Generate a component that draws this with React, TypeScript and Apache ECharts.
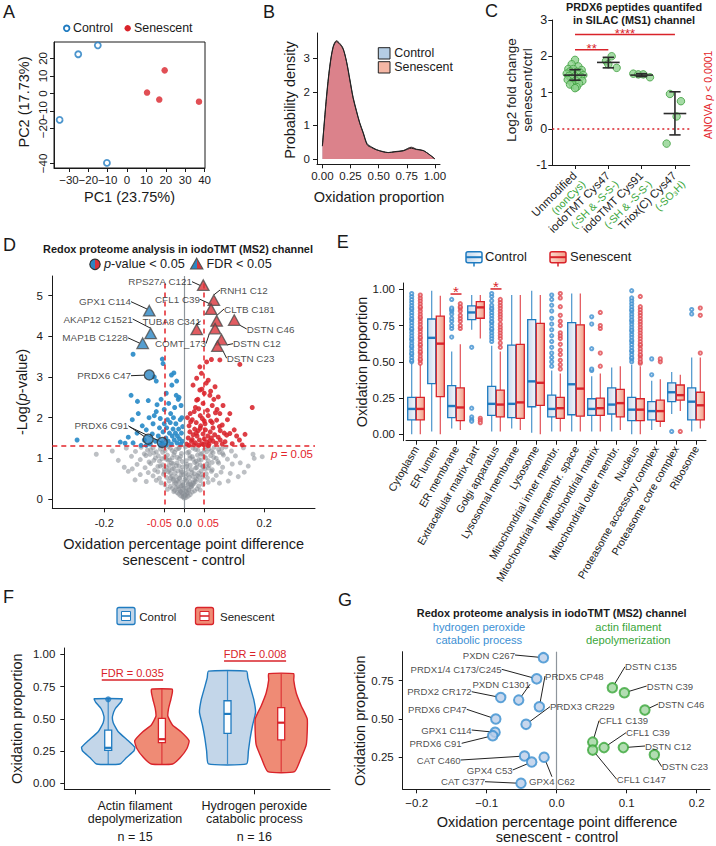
import React, { useEffect, useRef } from 'react';
import * as echarts from 'echarts';

const FONT = '"Liberation Sans", Arial, Helvetica, sans-serif';
const INK = '#1a1a1a';
const BLUE = '#1f7bc0';
const RED = '#d9232a';
const GREEN = '#3aa63a';
const AXIS_GREY = '#8e959c';

// ---------------- A: PCA ----------------
const pcaControl = [[-34.8, -15.1], [-25.2, 22.4], [-15.1, 27.5], [-10.4, -39.7]];
const pcaSenescent = [[10.3, 0.5], [19.4, 13.2], [16.6, -3.5], [37.1, -4.7]];
const pcaXTicks = [-30, -20, -10, 0, 10, 20, 30, 40];
const pcaXLabels = ['\u221230', '\u221220', '\u221210', '0', '10', '20', '30', '40'];
const pcaYTicks = [-40, -30, -20, -10, 0, 10, 20];
const pcaYLabels = ['\u221240', '\u221230', '\u221220', '\u221210', '0', '10', '20'];

// ---------------- B: density ----------------
const densX = [0, 0.036, 0.065, 0.095, 0.125, 0.154, 0.184, 0.214, 0.243, 0.273, 0.303, 0.332, 0.362, 0.398, 0.436, 0.48, 0.54, 0.585, 0.644, 0.718, 0.79, 0.837, 0.896, 0.955, 1.0];
const densControl = [0.38, 1.8, 2.72, 3.32, 3.5, 3.43, 3.28, 2.92, 2.4, 1.84, 1.44, 1.08, 0.8, 0.45, 0.36, 0.28, 0.21, 0.19, 0.21, 0.24, 0.32, 0.28, 0.25, 0.12, 0.0];
const densSenescent = [0.4, 1.86, 2.76, 3.35, 3.53, 3.45, 3.3, 2.9, 2.36, 1.81, 1.41, 1.06, 0.77, 0.42, 0.34, 0.27, 0.22, 0.19, 0.22, 0.25, 0.35, 0.29, 0.25, 0.12, 0.0];
const densXTicks = [0, 0.25, 0.5, 0.75, 1];
const densXLabels = ['0.00', '0.25', '0.50', '0.75', '1.00'];
const densYTicks = [0, 1, 2, 3];
const densYLabels = ['0', '1', '2', '3'];

// ---------------- C: PRDX6 SILAC ----------------
const cCategories = ['Unmodified', 'iodoTMT Cys47', 'iodoTMT Cys91', 'Triox(C) Cys47'];
const cSubLabels = ['(nonCys)', '(-SH & -S-S-)', '(-SH & -S-S-)', '(-SO\u2083H)'];
const cPoints = [
  [1.0, 1.9], [0.9, 1.78], [1.1, 1.72], [0.8, 1.65], [0.95, 1.65], [1.2, 1.62], [0.85, 1.58], [1.05, 1.57],
  [1.15, 1.55], [0.75, 1.52], [0.92, 1.5], [1.08, 1.5], [1.25, 1.48], [0.82, 1.46], [1.0, 1.45], [1.18, 1.43],
  [0.88, 1.4], [1.1, 1.38], [0.78, 1.35], [1.02, 1.33], [1.22, 1.32], [0.9, 1.28], [1.12, 1.25], [0.95, 1.2],
  [1.05, 1.15], [0.85, 1.22], [1.0, 1.12],
  [1.93, 1.87], [2.1, 2.0], [2.25, 1.68], [2.0, 1.78],
  [2.75, 1.52], [2.9, 1.5], [3.05, 1.5], [3.25, 1.42],
  [3.85, 0.96], [4.18, 0.76], [4.05, 0.34], [3.75, -0.41],
];
const cStats = [[1, 1.48, 1.34, 1.63], [2, 1.83, 1.68, 1.97], [3, 1.48, 1.44, 1.52], [4, 0.42, -0.17, 1.02]];
const cSig = [[1, 2, 2.18], [1, 4, 2.6]];
const cSigText = ['**', '****'];
const cYTicks = [-1, 0, 1, 2, 3];
const cYLabels = ['-1', '0', '1', '2', '3'];

// ---------------- D: volcano ----------------
const dGrey = [
  [0.0, 0.02], [-0.004, 0.05], [0.005, 0.04], [-0.009, 0.08], [0.01, 0.07], [0.002, 0.1], [-0.014, 0.12], [0.015, 0.11], [-0.003, 0.13], [0.008, 0.14],
  [-0.018, 0.16], [0.02, 0.17], [-0.008, 0.18], [0.004, 0.19], [-0.024, 0.21], [0.026, 0.2], [0.012, 0.23], [-0.013, 0.24], [-0.03, 0.26], [0.032, 0.25], [0.0, 0.27], [-0.02, 0.28], [0.018, 0.29], [0.04, 0.22], [-0.042, 0.24],
  [-0.035, 0.31], [0.036, 0.32], [-0.006, 0.33], [0.009, 0.34], [-0.048, 0.35], [0.047, 0.36], [-0.025, 0.37], [0.024, 0.38], [-0.058, 0.4], [0.06, 0.41], [-0.015, 0.42], [0.014, 0.43], [-0.038, 0.44], [0.04, 0.45], [-0.07, 0.46], [0.072, 0.47], [0.002, 0.48], [-0.028, 0.49], [0.03, 0.49], [-0.095, 0.43], [0.088, 0.39], [-0.123, 0.47], [0.11, 0.44],
  [-0.062, 0.51], [0.058, 0.52], [-0.044, 0.53], [0.046, 0.54], [-0.02, 0.55], [0.021, 0.56], [-0.078, 0.57], [0.08, 0.58], [-0.008, 0.59], [0.01, 0.6], [-0.052, 0.61], [0.055, 0.62], [-0.034, 0.63], [0.036, 0.64], [-0.09, 0.65], [0.092, 0.66], [-0.066, 0.67], [0.068, 0.68], [-0.016, 0.69], [0.135, 0.55], [-0.11, 0.6], [0.115, 0.63], [-0.14, 0.68], [0.15, 0.66],
  [-0.074, 0.71], [0.07, 0.72], [-0.05, 0.73], [0.052, 0.74], [-0.026, 0.75], [0.028, 0.76], [-0.098, 0.77], [0.096, 0.78], [-0.004, 0.79], [0.006, 0.8], [-0.06, 0.81], [0.062, 0.82], [-0.038, 0.83], [0.04, 0.84], [-0.118, 0.85], [0.12, 0.86], [-0.084, 0.87], [0.086, 0.88], [-0.018, 0.89], [0.018, 0.72], [-0.15, 0.78], [0.16, 0.81], [-0.13, 0.74], [0.14, 0.89],
  [-0.088, 0.91], [0.084, 0.92], [-0.062, 0.93], [0.06, 0.94], [-0.04, 0.95], [0.042, 0.96], [-0.11, 0.97], [0.108, 0.98], [-0.012, 0.99], [0.014, 1.0], [-0.072, 1.01], [0.074, 1.02], [-0.048, 1.03], [0.05, 1.04], [-0.132, 1.05], [0.128, 1.06], [-0.096, 1.07], [0.098, 1.08], [-0.026, 1.09], [0.03, 0.93], [-0.165, 0.95], [0.175, 1.0], [-0.22, 1.1], [0.195, 1.04],
  [-0.1, 1.11], [0.096, 1.12], [-0.076, 1.13], [0.072, 1.14], [-0.054, 1.15], [0.056, 1.16], [-0.122, 1.17], [0.118, 1.18], [-0.03, 1.19], [0.034, 1.2], [-0.084, 1.21], [0.086, 1.22], [-0.06, 1.23], [0.062, 1.24], [-0.145, 1.25], [0.148, 1.26], [-0.108, 1.27], [0.104, 1.28], [-0.04, 1.29], [0.044, 1.12], [-0.18, 1.18], [0.172, 1.1], [-0.014, 1.24], [0.012, 1.16],
  [-0.003, 0.35], [0.004, 0.52], [-0.006, 0.66], [0.007, 0.85], [-0.009, 1.05], [0.003, 1.28], [-0.02, 0.82], [0.022, 0.98], [-0.024, 1.15], [0.025, 0.62], [-0.032, 0.88], [0.033, 1.08], [-0.012, 0.5], [0.016, 0.36], [-0.045, 0.98], [0.046, 0.8], [-0.035, 1.25], [0.028, 1.22],
  [-0.002, 0.06], [0.003, 0.09], [-0.006, 0.15], [0.007, 0.16], [-0.01, 0.2], [0.011, 0.22], [-0.004, 0.24], [0.005, 0.26], [-0.016, 0.3], [0.017, 0.31], [-0.009, 0.32], [0.01, 0.37], [-0.021, 0.39], [0.022, 0.4], [-0.005, 0.41], [0.006, 0.44],
  [-0.027, 0.46], [0.026, 0.47], [-0.011, 0.52], [0.013, 0.54], [-0.031, 0.56], [0.033, 0.58], [-0.003, 0.6], [0.004, 0.63], [-0.023, 0.64], [0.019, 0.66], [-0.04, 0.67], [0.042, 0.69], [-0.008, 0.7], [0.009, 0.73], [-0.03, 0.74], [0.031, 0.77],
  [-0.045, 0.78], [0.048, 0.79], [-0.013, 0.81], [0.015, 0.83], [-0.054, 0.84], [0.057, 0.86], [-0.028, 0.87], [0.026, 0.9], [-0.005, 0.92], [0.005, 0.94], [-0.036, 0.96], [0.037, 0.97], [-0.056, 0.99], [0.054, 1.01], [-0.018, 1.02], [0.02, 1.04],
  [-0.065, 1.06], [0.066, 1.07], [-0.042, 1.08], [0.041, 1.1], [-0.007, 1.12], [0.008, 1.14], [-0.07, 1.16], [0.068, 1.18], [-0.048, 1.19], [0.05, 1.21], [-0.02, 1.22], [0.022, 1.25], [-0.078, 1.26], [0.075, 1.27], [-0.052, 1.28], [0.054, 1.29],
  [-0.012, 1.27], [0.014, 1.06], [-0.03, 1.01], [0.032, 0.86], [-0.038, 0.71], [0.035, 0.55], [-0.018, 0.45], [0.02, 0.34], [-0.026, 0.18], [0.028, 0.43], [-0.034, 0.52], [0.044, 0.6], [-0.05, 0.66], [0.06, 0.76], [-0.066, 0.8], [0.07, 0.9],
  [-0.076, 0.95], [0.08, 1.0], [-0.086, 1.1], [0.088, 1.15], [-0.092, 1.2], [0.094, 1.24],
];
const dBlue = [
  [-0.268, 1.45], [-0.16, 1.4], [-0.148, 1.37], [-0.14, 1.52], [-0.128, 1.38], [-0.118, 1.62], [-0.13, 1.95], [-0.115, 2.1], [-0.133, 2.55], [-0.117, 2.4], [-0.128, 3.56],
  [-0.1, 1.45], [-0.095, 1.7], [-0.09, 2.42], [-0.085, 1.35], [-0.08, 1.6], [-0.078, 1.85], [-0.075, 2.05], [-0.072, 1.42], [-0.07, 2.9], [-0.068, 2.32], [-0.065, 1.55], [-0.062, 1.75], [-0.06, 1.98], [-0.058, 2.45],
  [-0.055, 3.44], [-0.053, 3.33], [-0.055, 1.38], [-0.053, 1.65], [-0.05, 1.85], [-0.05, 2.2], [-0.046, 1.5], [-0.045, 2.6], [-0.044, 1.75], [-0.042, 1.95], [-0.04, 1.42], [-0.039, 2.35], [-0.037, 1.62], [-0.035, 1.88],
  [-0.034, 2.1], [-0.032, 1.35], [-0.032, 3.05], [-0.031, 2.8], [-0.03, 1.55], [-0.028, 1.72], [-0.027, 2.0], [-0.025, 1.45], [-0.024, 2.25], [-0.022, 1.62], [-0.021, 1.85], [-0.02, 2.55], [-0.018, 1.38], [-0.017, 1.55],
  [-0.015, 2.45], [-0.014, 1.72], [-0.012, 1.48], [-0.01, 1.95], [-0.009, 1.35], [-0.007, 1.62], [-0.006, 2.0], [-0.005, 1.42], [-0.004, 1.78], [-0.108, 1.32], [-0.095, 1.32], [-0.06, 1.32], [-0.045, 1.33],
  [-0.075, 3.0], [-0.026, 3.1], [-0.019, 2.9], [-0.013, 2.5], [-0.008, 2.3], [-0.088, 2.0], [-0.105, 1.8], [-0.07, 2.15],
];
const dRed = [
  [0.039, 3.25], [0.056, 3.37], [0.068, 3.43], [0.089, 3.42], [0.139, 3.31], [0.043, 3.09], [0.031, 2.97], [0.06, 2.92], [0.039, 2.68], [0.077, 2.76], [0.085, 2.51], [0.031, 2.43], [0.05, 2.6], [0.064, 2.55], [0.022, 2.8], [0.047, 2.35],
  [0.17, 2.25], [0.114, 2.1], [0.089, 2.1], [0.081, 1.94], [0.07, 2.3], [0.058, 2.18], [0.04, 2.05], [0.025, 2.15], [0.015, 2.1], [0.008, 2.0], [0.012, 1.8], [0.02, 1.95], [0.03, 1.88], [0.036, 2.22], [0.045, 1.98],
  [0.052, 1.85], [0.06, 2.05], [0.066, 1.92], [0.072, 1.75], [0.078, 2.12], [0.095, 1.82], [0.1, 1.62], [0.106, 1.57], [0.114, 1.61], [0.131, 1.55], [0.152, 1.59], [0.102, 1.41], [0.12, 1.36],
  [0.006, 1.35], [0.01, 1.5], [0.014, 1.65], [0.018, 1.42], [0.022, 1.58], [0.026, 1.72], [0.028, 1.38], [0.032, 1.55], [0.035, 1.68], [0.038, 1.45], [0.041, 1.8], [0.044, 1.36], [0.047, 1.6], [0.05, 1.48],
  [0.053, 1.7], [0.056, 1.4], [0.059, 1.55], [0.062, 1.35], [0.065, 1.65], [0.068, 1.5], [0.072, 1.42], [0.076, 1.58], [0.08, 1.37], [0.085, 1.52], [0.09, 1.45], [0.095, 1.35],
  [0.012, 1.32], [0.024, 1.33], [0.036, 1.32], [0.048, 1.34], [0.06, 1.31], [0.016, 1.9], [0.028, 2.25], [0.034, 2.45], [0.044, 2.7], [0.055, 2.85], [0.066, 2.65], [0.074, 2.45], [0.082, 2.2], [0.09, 1.68],
  [0.097, 2.3], [0.108, 1.95], [0.125, 1.7], [0.138, 1.45], [0.145, 1.33], [0.02, 1.46], [0.03, 1.62], [0.04, 1.74], [0.05, 1.92], [0.064, 1.44], [0.07, 1.88], [0.088, 1.78],
];
const dFdrNames = ['RPS27A C121', 'RNH1 C12', 'CFL1 C39', 'CLTB C181', 'DSTN C46', 'TUBA8 C341', 'COMT_173', 'DSTN C12', 'DSTN C23', 'GPX1 C114', 'AKAP12 C1521', 'MAP1B C1228'];
const dFdrPts = [[0.0475, 5.26], [0.074, 4.89], [0.067, 4.67], [0.081, 4.38], [0.125, 4.4], [0.031, 4.17], [0.077, 4.19], [0.093, 3.92], [0.083, 3.76], [-0.0875, 4.63], [-0.084, 4.07], [-0.104, 3.83]];
const dPvalNames = ['PRDX6 C47', 'PRDX6 C91', 'PRDX6 C91'];
const dPvalPts = [[-0.0875, 3.05], [-0.09, 1.47], [-0.055, 1.39]];
const dXTicks = [-0.2, -0.05, 0, 0.05, 0.2];
const dXLabels = ['-0.2', '{rl|-0.05}', '0.0', '{rr|0.05}', '0.2'];
const dYTicks = [0, 1, 2, 3, 4, 5];
const dYLabels = ['0', '1', '2', '3', '4', '5'];
const dFdrLabelPos = [[192, 281.7, 'right'], [220, 290, 'left'], [200, 299.3, 'right'], [224, 309, 'left'], [246.7, 329, 'left'], [200.7, 321, 'right'], [206, 343.7, 'right'], [233, 343.7, 'left'], [226.7, 358.3, 'left'], [131, 301.7, 'right'], [132.7, 319, 'right'], [127.7, 337.7, 'right']];
const dPvalLabelPos = [[131, 375.7, 'right'], [128.3, 425.7, 'right'], [128.3, 425.7, 'right']];

// ---------------- E: compartments ----------------
const eCategories = ['Cytoplasm', 'ER lumen', 'ER membrane', 'Extracellular matrix part', 'Golgi apparatus', 'Lysosomal membrane', 'Lysosome', 'Mitochondrial inner membr.', 'Mitochondrial intermembr. space', 'Mitochondrial matrix', 'Mitochondrial outer membr.', 'Nucleus', 'Proteasome accessory complex', 'Proteasome core complex', 'Ribosome'];
// [lower whisker, Q1, median, Q3, upper whisker]
const eControl = [
  [0.0, 0.1, 0.175, 0.255, 0.49], [0.02, 0.35, 0.665, 0.795, 0.99], [0.04, 0.115, 0.195, 0.335, 0.57], [0.72, 0.79, 0.84, 0.885, 0.96],
  [0.02, 0.13, 0.21, 0.33, 0.61], [0.04, 0.115, 0.21, 0.615, 0.96], [0.01, 0.19, 0.365, 0.79, 0.99], [0.02, 0.12, 0.175, 0.27, 0.44],
  [0.02, 0.135, 0.345, 0.77, 0.97], [0.02, 0.13, 0.175, 0.245, 0.4], [0.02, 0.14, 0.205, 0.32, 0.46], [0.0, 0.095, 0.17, 0.255, 0.48],
  [0.03, 0.1, 0.16, 0.225, 0.37], [0.14, 0.225, 0.29, 0.355, 0.43], [0.02, 0.1, 0.225, 0.32, 0.53],
];
const eSenescent = [
  [0.0, 0.1, 0.175, 0.255, 0.48], [0.0, 0.26, 0.625, 0.815, 0.955], [0.03, 0.095, 0.185, 0.32, 0.62], [0.66, 0.8, 0.875, 0.915, 0.96],
  [0.02, 0.12, 0.205, 0.305, 0.57], [0.03, 0.11, 0.22, 0.62, 0.96], [0.0, 0.2, 0.355, 0.765, 0.96], [0.02, 0.11, 0.18, 0.255, 0.42],
  [0.02, 0.125, 0.315, 0.755, 0.97], [0.02, 0.13, 0.18, 0.25, 0.42], [0.03, 0.12, 0.215, 0.31, 0.47], [0.0, 0.095, 0.17, 0.245, 0.47],
  [0.05, 0.09, 0.16, 0.235, 0.38], [0.16, 0.235, 0.27, 0.34, 0.41], [0.04, 0.1, 0.2, 0.29, 0.53],
];
const eOutControl = [
  [0.5, 0.51, 0.53, 0.55, 0.56, 0.58, 0.6, 0.61, 0.63, 0.65, 0.66, 0.68, 0.7, 0.72, 0.73, 0.75, 0.77, 0.79, 0.8, 0.82, 0.84, 0.86, 0.87, 0.89, 0.91, 0.93, 0.95, 0.97],
  [],
  [0.67, 0.73, 0.75, 0.78, 0.8, 0.83, 0.85, 0.86, 0.87, 0.93],
  [0.6, 0.18, 0.12, 0.1, 0.09],
  [0.64, 0.66, 0.68, 0.7, 0.72, 0.73, 0.75, 0.77, 0.78, 0.8, 0.82, 0.84, 0.86, 0.87, 0.89, 0.92, 0.95, 0.97],
  [], [],
  [0.47, 0.5, 0.53, 0.56, 0.6, 0.64, 0.68, 0.72, 0.76, 0.8, 0.85, 0.89, 0.93, 0.96],
  [],
  [0.44, 0.45, 0.59, 0.76, 0.81],
  [],
  [0.5, 0.52, 0.53, 0.55, 0.57, 0.58, 0.6, 0.62, 0.64, 0.65, 0.67, 0.69, 0.71, 0.72, 0.74, 0.76, 0.78, 0.79, 0.81, 0.83, 0.85, 0.86, 0.88, 0.9, 0.92, 0.94, 0.99],
  [0.41, 0.52],
  [0.02],
  [0.83, 0.86],
];
const eOutSenescent = [
  [0.49, 0.51, 0.52, 0.54, 0.56, 0.57, 0.59, 0.61, 0.62, 0.64, 0.66, 0.67, 0.69, 0.71, 0.73, 0.74, 0.76, 0.78, 0.8, 0.81, 0.83, 0.85, 0.87, 0.88, 0.9, 0.92, 0.94, 0.96],
  [],
  [0.73, 0.75, 0.78, 0.8, 0.82, 0.85, 0.87, 0.88, 0.9],
  [0.11, 0.095, 0.08],
  [0.6, 0.63, 0.66, 0.68, 0.7, 0.72, 0.74, 0.76, 0.79, 0.81, 0.83, 0.85, 0.87, 0.89, 0.91, 0.93],
  [], [],
  [0.45, 0.48, 0.51, 0.55, 0.58, 0.62, 0.66, 0.68, 0.7, 0.75, 0.78, 0.82, 0.88, 0.94, 0.97],
  [],
  [0.47, 0.56, 0.73, 0.75, 0.84],
  [],
  [0.49, 0.5, 0.52, 0.54, 0.55, 0.57, 0.59, 0.61, 0.62, 0.64, 0.66, 0.68, 0.7, 0.72, 0.74, 0.76, 0.78, 0.8, 0.82, 0.84, 0.86, 0.88, 0.95],
  [0.5, 0.52],
  [0.02],
  [0.56, 0.82, 0.87],
];
const eSig = [[2, 0.967], [4, 1.002]];
const eYTicks = [0, 0.25, 0.5, 0.75, 1];
const eYLabels = ['0.00', '0.25', '0.50', '0.75', '1.00'];

// ---------------- F: violins ----------------
const fGroups = [['Actin filament', 'depolymerization'], ['Hydrogen peroxide', 'catabolic process']];
const fCounts = [15, 16];
// order: actin control, actin senescent, H2O2 control, H2O2 senescent
const fViolinY = [
  [0.15, 0.2, 0.25, 0.28, 0.33, 0.4, 0.47, 0.52, 0.58, 0.63, 0.655],
  [0.15, 0.2, 0.27, 0.33, 0.4, 0.45, 0.52, 0.58, 0.65, 0.7, 0.73],
  [0.15, 0.25, 0.35, 0.45, 0.55, 0.65, 0.75, 0.82, 0.87],
  [0.09, 0.2, 0.3, 0.4, 0.5, 0.6, 0.7, 0.8, 0.85],
];
const fViolinW = [
  [0.098, 0.154, 0.215, 0.223, 0.168, 0.084, 0.042, 0.036, 0.06, 0.106, 0.117],
  [0.09, 0.154, 0.21, 0.228, 0.16, 0.09, 0.05, 0.056, 0.075, 0.087, 0.087],
  [0.16, 0.175, 0.19, 0.21, 0.235, 0.22, 0.19, 0.17, 0.16],
  [0.112, 0.168, 0.21, 0.218, 0.218, 0.168, 0.126, 0.105, 0.105],
];
const fBoxStats = [[0.15, 0.255, 0.275, 0.413, 0.655], [0.15, 0.315, 0.342, 0.504, 0.73], [0.15, 0.387, 0.538, 0.64, 0.87], [0.09, 0.336, 0.47, 0.586, 0.85]];
const fOutliers = [[0, 0.651]];
const fFdr = [[0.721, 1.235, 0.8], [1.746, 2.266, 0.948]];
const fFdrText = ['FDR = 0.035', 'FDR = 0.008'];
const fYTicks = [0, 0.25, 0.5, 0.75, 1];
const fYLabels = ['0.00', '0.25', '0.50', '0.75', '1.00'];

// ---------------- G: GO terms ----------------
const gH2O2Names = ['PXDN C267', 'PRDX1/4 C173/C245', 'PRDX5 CP48', 'PXDN C1301', 'PRDX2 CR172', 'PRDX6 CP47', 'PRDX3 CR229', 'GPX1 C114', 'PRDX6 C91', 'CAT C460', 'GPX4 C53', 'GPX4 C62', 'CAT C377'];
const gH2O2Pts = [[-0.019, 0.9], [-0.0286, 0.762], [-0.0248, 0.58], [-0.0543, 0.623], [-0.08, 0.64], [-0.087, 0.5], [-0.0438, 0.465], [-0.088, 0.413], [-0.0914, 0.391], [-0.046, 0.258], [-0.0357, 0.219], [-0.018, 0.25], [-0.051, 0.08]];
const gActinNames = ['DSTN C135', 'DSTN C39', 'DSTN C46', 'CFL1 C139', 'CFL1 C39', 'DSTN C12', 'DSTN C23', 'CFL1 C147'];
const gActinPts = [[0.0795, 0.704], [0.0967, 0.671], [0.126, 0.558], [0.0514, 0.349], [0.0676, 0.313], [0.0952, 0.313], [0.1395, 0.267], [0.0514, 0.297]];
const gXTicks = [-0.2, -0.1, 0, 0.1, 0.2];
const gXLabels = ['\u22120.2', '\u22120.1', '0.0', '0.1', '0.2'];
const gYTicks = [0.25, 0.5, 0.75];
const gYLabels = ['0.25', '0.50', '0.75'];
const gH2O2LabelPos = [[515, 655, 'right'], [501.7, 669.3, 'right'], [545, 676, 'left'], [530, 684.3, 'right'], [471.7, 691.7, 'right'], [466.7, 709.3, 'right'], [550, 706.7, 'left'], [471.7, 730, 'right'], [461.7, 743.3, 'right'], [460.7, 760, 'right'], [512.7, 770, 'right'], [529, 781.7, 'left'], [485, 781.7, 'right']];
const gActinLabelPos = [[625, 666.7, 'left'], [646.7, 686, 'left'], [658, 704, 'left'], [599, 720.7, 'left'], [626, 732.7, 'left'], [645, 746, 'left'], [661.7, 766.7, 'left'], [616.7, 779.3, 'left']];

// ---------------- helpers ----------------
function valueAxis(gridIndex: number, min: number, max: number, ticks: number[], labels: string[], o: any = {}) {
  return {
    type: 'value', gridIndex, min, max, offset: o.offset || 0,
    axisLine: { show: true, onZero: false, lineStyle: { color: INK, width: 1 } },
    axisTick: { show: true, inside: false, length: o.tickLen ?? 4, customValues: ticks, lineStyle: { color: INK, width: 1 } },
    axisLabel: {
      show: !o.hideLabels, customValues: ticks, showMinLabel: true, showMaxLabel: true,
      formatter: (v: number) => { const i = ticks.findIndex((t) => Math.abs(t - v) < 1e-9); return i >= 0 ? labels[i] : ''; },
      fontSize: o.fontSize ?? 11.5, color: INK, fontFamily: FONT, margin: o.margin ?? 5, rotate: o.rotate ?? 0,
      rich: o.rich, hideOverlap: false,
    },
    splitLine: { show: false }, splitArea: { show: false },
  };
}

function T(text: string, x: number, y: number, o: any = {}) {
  const style: any = {
    text, fill: o.color || INK, fontSize: o.size || 14.5, fontFamily: FONT,
    fontWeight: o.bold ? 'bold' : 'normal', align: o.align || 'center', verticalAlign: 'middle',
  };
  if (o.rich) style.rich = o.rich;
  if (o.lh) style.lineHeight = o.lh;
  return { type: 'text', x, y, rotation: o.rot || 0, silent: true, z: 50, style };
}

const italicRich = (size: number, color: string) => ({ i: { fontStyle: 'italic', fontSize: size, fill: color, color, fontFamily: FONT } });

function hGrad(c0: string, c1: string) {
  return new echarts.graphic.LinearGradient(0, 0, 1, 0, [{ offset: 0, color: c0 }, { offset: 1, color: c1 }]);
}
function splitGrad() {
  return new echarts.graphic.LinearGradient(0, 0, 1, 0, [
    { offset: 0, color: '#2a86c4' }, { offset: 0.5, color: '#2a86c4' },
    { offset: 0.5, color: '#d9333a' }, { offset: 1, color: '#d9333a' },
  ]);
}

function boxRender(offsetPx: number, boxW: number, fillFn: () => any, stroke: string, medW: number) {
  return (params: any, api: any) => {
    const c = api.value(0);
    const lo = api.coord([c, api.value(1)]);
    const q1 = api.coord([c, api.value(2)]);
    const md = api.coord([c, api.value(3)]);
    const q3 = api.coord([c, api.value(4)]);
    const hi = api.coord([c, api.value(5)]);
    const x = lo[0] + offsetPx;
    return {
      type: 'group', children: [
        { type: 'line', shape: { x1: x, y1: hi[1], x2: x, y2: q3[1] }, style: { stroke, lineWidth: 1.2, opacity: 0.8 } },
        { type: 'line', shape: { x1: x, y1: q1[1], x2: x, y2: lo[1] }, style: { stroke, lineWidth: 1.2, opacity: 0.8 } },
        { type: 'rect', shape: { x: x - boxW / 2, y: q3[1], width: boxW, height: q1[1] - q3[1] }, style: { fill: fillFn(), stroke, lineWidth: 1.3 } },
        { type: 'line', shape: { x1: x - boxW / 2, y1: md[1], x2: x + boxW / 2, y2: md[1] }, style: { stroke, lineWidth: medW } },
      ],
    };
  };
}

function sigRender(texts: string[], fontSize: number, gap: number, vAlign: string) {
  return (params: any, api: any) => {
    const a = api.coord([api.value(0), api.value(2)]);
    const b = api.coord([api.value(1), api.value(2)]);
    return {
      type: 'group', children: [
        { type: 'line', shape: { x1: a[0], y1: a[1], x2: b[0], y2: b[1] }, style: { stroke: RED, lineWidth: 1.5 } },
        { type: 'text', x: (a[0] + b[0]) / 2, y: a[1] - gap, style: { text: texts[params.dataIndex], fill: RED, fontSize, fontFamily: FONT, align: 'center', verticalAlign: vAlign } },
      ],
    };
  };
}

function labelLayoutFrom(pos: any[]) {
  return (p: any) => {
    const L = pos[p.dataIndex];
    return { x: L[0], y: L[1], align: L[2], verticalAlign: 'middle', hideOverlap: false };
  };
}

const F_OFF = 0.225;
const C_RICH = {
  k: { fontSize: 11.5, fill: INK, color: INK, lineHeight: 12.5, fontFamily: FONT },
  g: { fontSize: 10.5, fill: GREEN, color: GREEN, lineHeight: 12.5, fontFamily: FONT },
};

function buildOption() {
  const grids = [
    { left: 54, top: 42, width: 151, height: 126, show: true, borderColor: INK, borderWidth: 1, backgroundColor: 'transparent' },
    { left: 317, top: 33, width: 123, height: 131.3 },
    { left: 552.3, top: 20, width: 137.4, height: 145 },
    { left: 52.3, top: 276, width: 262.7, height: 232.3 },
    { left: 406, top: 283, width: 300, height: 157.7 },
    { left: 64.3, top: 648, width: 265.7, height: 141.3 },
    { left: 402.7, top: 651.7, width: 307.3, height: 137.6 },
  ].map((g) => ({ containLabel: false, outerBoundsMode: 'none', ...g }));

  const fXLabels = fGroups.map((g, i) => `{a|${g[0]}}\n{a|${g[1]}}\n{n|n = ${fCounts[i]}}`);

  const xAxis: any[] = [
    valueAxis(0, -37.7, 40.2, pcaXTicks, pcaXLabels, { margin: 6 }),
    valueAxis(1, -0.048, 1.045, densXTicks, densXLabels, { margin: 6 }),
    valueAxis(2, 0.318, 4.443, [1, 2, 3, 4], cCategories, { hideLabels: true }),
    valueAxis(3, -0.33, 0.327, dXTicks, dXLabels, {
      margin: 9, fontSize: 11,
      rich: {
        rl: { color: '#e3242b', fontSize: 11, fontFamily: FONT, padding: [0, 10, 0, 0] },
        rr: { color: '#e3242b', fontSize: 11, fontFamily: FONT, padding: [0, 0, 0, 8] },
      },
    }),
    {
      type: 'category', gridIndex: 4, data: eCategories, boundaryGap: true,
      axisLine: { show: true, onZero: false, lineStyle: { color: INK } },
      axisTick: { show: true, alignWithLabel: true, length: 4, interval: 0, lineStyle: { color: INK } },
      axisLabel: { interval: 0, rotate: 60, fontSize: 10.7, color: INK, margin: 6, fontFamily: FONT, hideOverlap: false },
      splitLine: { show: false },
    },
    valueAxis(5, 0.407, 2.634, [1, 2], fXLabels, {
      margin: 10, tickLen: 5,
      rich: { a: { fontSize: 12.5, lineHeight: 13.3, color: INK, fontFamily: FONT }, n: { fontSize: 12.5, lineHeight: 21.5, color: INK, fontFamily: FONT } },
    }),
    valueAxis(6, -0.22, 0.219, gXTicks, gXLabels, { margin: 7.5 }),
  ];

  const yAxis: any[] = [
    valueAxis(0, -42.6, 29.4, pcaYTicks, pcaYLabels, { rotate: 90, margin: 5 }),
    valueAxis(1, -0.16, 3.76, densYTicks, densYLabels, { margin: 7 }),
    valueAxis(2, -1, 3, cYTicks, cYLabels, { margin: 5, fontSize: 12.5 }),
    valueAxis(3, -0.229, 5.484, dYTicks, dYLabels, { margin: 9.5 }),
    valueAxis(4, -0.044, 1.043, eYTicks, eYLabels, { margin: 8, offset: 3 }),
    valueAxis(5, -0.0465, 1.049, fYTicks, fYLabels, { margin: 9 }),
    valueAxis(6, 0.041, 0.939, gYTicks, gYLabels, { margin: 9 }),
  ];

  const xi = (i: number) => ({ xAxisIndex: i, yAxisIndex: i });

  const series: any[] = [
    // ---- A ----
    { type: 'scatter', ...xi(0), data: pcaControl, symbol: 'circle', symbolSize: 6, itemStyle: { color: '#ffffff', borderColor: BLUE, borderWidth: 1.8 } },
    { type: 'scatter', ...xi(0), data: pcaSenescent, symbol: 'circle', symbolSize: 6.5, itemStyle: { color: RED } },
    // ---- B ----
    { type: 'line', ...xi(1), data: densX.map((x, i) => [x, densControl[i]]), smooth: 0.3, symbol: 'none', lineStyle: { color: '#222', width: 1 }, areaStyle: { color: '#a9c3dc', opacity: 0.95 } },
    { type: 'line', ...xi(1), data: densX.map((x, i) => [x, densSenescent[i]]), smooth: 0.3, symbol: 'none', lineStyle: { color: '#222', width: 1 }, areaStyle: { color: '#df7d84', opacity: 0.93 } },
    // ---- C ----
    {
      type: 'scatter', ...xi(2), data: cPoints, symbolSize: 7.5, itemStyle: { color: '#8fd28f', borderColor: '#3f9f3f', borderWidth: 1 },
      markLine: { silent: true, symbol: ['none', 'none'], label: { show: false }, lineStyle: { color: RED, type: [2, 3], width: 1.6 }, data: [{ yAxis: 0 }] },
    },
    {
      type: 'custom', ...xi(2), data: cStats, encode: { x: 0, y: [1, 2, 3] }, z: 5,
      renderItem: (params: any, api: any) => {
        const x = api.value(0);
        const m = api.coord([x, api.value(1)]);
        const lo = api.coord([x, api.value(2)]);
        const hi = api.coord([x, api.value(3)]);
        const wm = api.size([0.34, 0])[0];
        const wc = api.size([0.17, 0])[0];
        const st = { stroke: '#2b2b2b', lineWidth: 1.6 };
        return {
          type: 'group', children: [
            { type: 'line', shape: { x1: lo[0], y1: lo[1], x2: hi[0], y2: hi[1] }, style: st },
            { type: 'line', shape: { x1: m[0] - wm, y1: m[1], x2: m[0] + wm, y2: m[1] }, style: st },
            { type: 'line', shape: { x1: lo[0] - wc, y1: lo[1], x2: lo[0] + wc, y2: lo[1] }, style: st },
            { type: 'line', shape: { x1: hi[0] - wc, y1: hi[1], x2: hi[0] + wc, y2: hi[1] }, style: st },
          ],
        };
      },
    },
    { type: 'custom', ...xi(2), data: cSig, encode: { x: [0, 1], y: 2 }, renderItem: sigRender(cSigText, 13, 7.5, 'top') },
    // C category tick labels (rotated, two-coloured), anchored at the axis ticks
    {
      type: 'custom', ...xi(2), data: cCategories.map((c, i) => [i + 1, -1]), encode: { x: 0, y: 1 }, clip: false, silent: true,
      renderItem: (params: any, api: any) => {
        const p = api.coord([api.value(0), api.value(1)]);
        const i = params.dataIndex;
        return {
          type: 'text', x: p[0] + 4, y: p[1] + 13, rotation: Math.PI / 4,
          style: { text: `{k|${cCategories[i]}}\n{g|${cSubLabels[i]}}`, rich: C_RICH, align: 'right', verticalAlign: 'middle', fontFamily: FONT, fontSize: 11.5 },
        };
      },
    },
    // ---- D ----
    { type: 'scatter', ...xi(3), data: dGrey, symbolSize: 5, silent: true, itemStyle: { color: '#878d93', opacity: 0.55 } },
    { type: 'scatter', ...xi(3), data: dBlue, symbolSize: 5, itemStyle: { color: '#2a8bc8', opacity: 0.92 } },
    {
      type: 'scatter', ...xi(3), data: dRed, symbolSize: 5, itemStyle: { color: '#d8232b', opacity: 0.88 },
      markLine: {
        silent: true, symbol: ['none', 'none'], label: { show: false },
        lineStyle: { color: '#e3242b', type: [5, 4], width: 1.5 },
        data: [
          { xAxis: 0, lineStyle: { color: AXIS_GREY, type: 'solid', width: 1.2 } },
          [{ coord: [-0.05, 5.3] }, { coord: [-0.05, -0.229] }],
          [{ coord: [0.05, 5.3] }, { coord: [0.05, -0.229] }],
          {
            yAxis: 1.3,
            label: {
              show: true, position: 'insideEndBottom', formatter: () => '{i|p} = 0.05', color: '#e3242b', fontSize: 11.5, fontFamily: FONT, distance: 2,
              rich: { i: { fontStyle: 'italic', color: '#e3242b', fontSize: 11.5, fontFamily: FONT } },
            },
          },
        ],
      },
    },
    {
      type: 'scatter', ...xi(3), data: dFdrPts, symbol: 'triangle', symbolSize: [11.5, 10.5], z: 6,
      itemStyle: { color: (p: any) => (p.data[0] < 0 ? '#2a86c4' : '#d9333a'), borderColor: '#4d4d4d', borderWidth: 1.3 },
      label: { show: true, formatter: (p: any) => dFdrNames[p.dataIndex], fontSize: 9.9, color: INK, fontFamily: FONT },
      labelLine: { show: true, lineStyle: { color: '#222', width: 1 } },
      labelLayout: labelLayoutFrom(dFdrLabelPos),
    },
    {
      type: 'scatter', ...xi(3), z: 6,
      data: dPvalPts.map((v, i) => ({ value: v, label: { show: i === 0 || dPvalNames[i] !== dPvalNames[i - 1] } })),
      symbol: 'circle', symbolSize: 10, itemStyle: { color: '#2a86c4', borderColor: '#333', borderWidth: 1.3 },
      label: { show: true, formatter: (p: any) => dPvalNames[p.dataIndex], fontSize: 9.9, color: INK, fontFamily: FONT },
      labelLine: { show: true, lineStyle: { color: '#222', width: 1 } },
      labelLayout: labelLayoutFrom(dPvalLabelPos),
      markLine: {
        silent: true, symbol: ['none', 'none'], label: { show: false }, lineStyle: { color: '#222', width: 1, type: 'solid' },
        data: [[{ x: dPvalLabelPos[2][0] + 1, y: dPvalLabelPos[2][1] + 1 }, { coord: dPvalPts[2] }]],
      },
    },
    // ---- E ----
    {
      type: 'custom', ...xi(4), data: eControl.map((s, i) => [i, ...s]), encode: { x: 0, y: [1, 2, 3, 4, 5] },
      renderItem: boxRender(-4.3, 8, () => hGrad('#c8dbee', '#f1f7fc'), BLUE, 2.4),
    },
    {
      type: 'custom', ...xi(4), data: eSenescent.map((s, i) => [i, ...s]), encode: { x: 0, y: [1, 2, 3, 4, 5] },
      renderItem: boxRender(4.3, 8, () => hGrad('#fbdccf', '#f2a08a'), RED, 2.4),
    },
    {
      type: 'scatter', ...xi(4), data: eOutControl.flatMap((arr, i) => arr.map((v) => [i, v])), symbol: 'emptyCircle', symbolSize: 3.2,
      symbolOffset: [-4.3, 0], itemStyle: { color: '#3d8fd0', borderWidth: 0.8 },
    },
    {
      type: 'scatter', ...xi(4), data: eOutSenescent.flatMap((arr, i) => arr.map((v) => [i, v])), symbol: 'emptyCircle', symbolSize: 3.2,
      symbolOffset: [4.3, 0], itemStyle: { color: '#e0474d', borderWidth: 0.8 },
    },
    {
      type: 'custom', ...xi(4), data: eSig, encode: { x: 0, y: 1 },
      renderItem: (params: any, api: any) => {
        const p = api.coord([api.value(0), api.value(1)]);
        return {
          type: 'group', children: [
            { type: 'line', shape: { x1: p[0] - 5.5, y1: p[1], x2: p[0] + 5.5, y2: p[1] }, style: { stroke: RED, lineWidth: 1.5 } },
            { type: 'text', x: p[0], y: p[1] + 5, style: { text: '*', fill: RED, fontSize: 15, fontFamily: FONT, align: 'center', verticalAlign: 'bottom' } },
          ],
        };
      },
    },
    // ---- F ----
    {
      type: 'custom', ...xi(5), data: [[1 - F_OFF, 0], [1 + F_OFF, 0], [2 - F_OFF, 0], [2 + F_OFF, 0]], encode: { x: 0, y: 1 },
      renderItem: (params: any, api: any) => {
        const idx = params.dataIndex;
        const cx = api.value(0);
        const ys = fViolinY[idx];
        const ws = fViolinW[idx];
        const right = ys.map((y, i) => api.coord([cx + ws[i], y]));
        const left = ys.map((y, i) => api.coord([cx - ws[i], y])).reverse();
        const ctrl = idx % 2 === 0;
        return {
          type: 'polygon', shape: { points: right.concat(left), smooth: 0.15 },
          style: { fill: ctrl ? '#c3d6e9' : '#ef8b75', stroke: ctrl ? BLUE : RED, lineWidth: 1.4 },
        };
      },
    },
    {
      type: 'custom', ...xi(5), z: 4, data: fBoxStats.map((s, i) => [Math.floor(i / 2) + 1 + (i % 2 ? F_OFF : -F_OFF), ...s]), encode: { x: 0, y: [1, 2, 3, 4, 5] },
      renderItem: (params: any, api: any) => {
        const stroke = params.dataIndex % 2 === 0 ? BLUE : RED;
        return boxRender(0, 7, () => '#ffffff', stroke, 2.2)(params, api);
      },
    },
    { type: 'scatter', ...xi(5), z: 5, data: fOutliers.map((o) => [Math.floor(o[0] / 2) + 1 + (o[0] % 2 ? F_OFF : -F_OFF), o[1]]), symbolSize: 6, itemStyle: { color: BLUE } },
    { type: 'custom', ...xi(5), data: fFdr, encode: { x: [0, 1], y: 2 }, renderItem: sigRender(fFdrText, 11, 1.5, 'bottom') },
    // ---- G ----
    {
      type: 'scatter', ...xi(6), data: gH2O2Pts, symbolSize: 9.5, z: 5,
      itemStyle: { color: '#b9cde9', borderColor: '#3a8fd0', borderWidth: 2 },
      label: { show: true, formatter: (p: any) => gH2O2Names[p.dataIndex], fontSize: 9.6, color: INK, fontFamily: FONT },
      labelLine: { show: true, lineStyle: { color: '#222', width: 1 } },
      labelLayout: labelLayoutFrom(gH2O2LabelPos),
      markLine: { silent: true, symbol: ['none', 'none'], label: { show: false }, lineStyle: { color: AXIS_GREY, type: 'solid', width: 1.2 }, data: [{ xAxis: 0 }] },
    },
    {
      type: 'scatter', ...xi(6), data: gActinPts, symbolSize: 9.5, z: 5,
      itemStyle: { color: '#9fd49f', borderColor: '#3aa63a', borderWidth: 2 },
      label: { show: true, formatter: (p: any) => gActinNames[p.dataIndex], fontSize: 9.6, color: INK, fontFamily: FONT },
      labelLine: { show: true, lineStyle: { color: '#222', width: 1 } },
      labelLayout: labelLayoutFrom(gActinLabelPos),
    },
  ];

  const graphic: any[] = [
    // panel letters
    T('A', 3, 12, { size: 18, align: 'left' }),
    T('B', 263, 11.5, { size: 18, align: 'left' }),
    T('C', 485, 11, { size: 18, align: 'left' }),
    T('D', 3, 244.7, { size: 18, align: 'left' }),
    T('E', 336.7, 241.7, { size: 18, align: 'left' }),
    T('F', 3, 596.7, { size: 18, align: 'left' }),
    T('G', 338, 600, { size: 18, align: 'left' }),
    // A
    { type: 'circle', shape: { cx: 66.7, cy: 28.3, r: 2.8 }, style: { fill: '#fff', stroke: BLUE, lineWidth: 1.8 } },
    T('Control', 73, 28.3, { size: 12.4, align: 'left' }),
    { type: 'circle', shape: { cx: 127.7, cy: 28.3, r: 3.2 }, style: { fill: RED } },
    T('Senescent', 134, 28.3, { size: 12.4, align: 'left' }),
    T('PC1 (23.75%)', 129.5, 197),
    T('PC2 (17.73%)', 24, 102, { rot: Math.PI / 2 }),
    // B
    { type: 'rect', shape: { x: 378.3, y: 47.7, width: 11.7, height: 11.3 }, style: { fill: '#b4cde4', stroke: '#222', lineWidth: 1 } },
    T('Control', 394.3, 53.3, { size: 12.4, align: 'left' }),
    { type: 'rect', shape: { x: 378.3, y: 61.7, width: 11.7, height: 11.3 }, style: { fill: '#f5b7a5', stroke: '#222', lineWidth: 1 } },
    T('Senescent', 394.3, 67.3, { size: 12.4, align: 'left' }),
    T('Oxidation proportion', 379, 197),
    T('Probability density', 290, 100, { rot: Math.PI / 2 }),
    // C
    T('PRDX6 peptides quantifed', 634, 6.5, { size: 10.9, bold: true }),
    T('in SILAC (MS1) channel', 634, 20, { size: 10.9, bold: true }),
    T('Log2 fold change\nsenescent/ctrl', 519.6, 90, { size: 13.5, lh: 15.8, rot: Math.PI / 2 }),
    T('ANOVA {i|p} < 0.0001', 708, 95, { size: 10.5, color: '#e3242b', rot: Math.PI / 2, rich: italicRich(10.5, '#e3242b') }),
    // D
    T('Redox proteome analysis in iodoTMT (MS2) channel', 178, 249, { size: 10.9, bold: true }),
    { type: 'circle', shape: { cx: 95, cy: 264.3, r: 5.2 }, style: { fill: splitGrad(), stroke: '#333', lineWidth: 1.2 } },
    T('{i|p}-value < 0.05', 104, 264.3, { size: 12.7, align: 'left', rich: italicRich(12.7, INK) }),
    { type: 'polygon', shape: { points: [[196.7, 258.3], [202.8, 269], [190.6, 269]] }, style: { fill: splitGrad(), stroke: '#555', lineWidth: 1.2 } },
    T('FDR < 0.05', 206.5, 264.3, { size: 12.7, align: 'left' }),
    T('Oxidation percentage point difference', 183.7, 543.5),
    T('senescent - control', 183.7, 559.5),
    T('-Log({i|p}-value)', 22, 392, { rot: Math.PI / 2, rich: italicRich(14.5, INK) }),
    // E legend
    { type: 'rect', shape: { x: 466, y: 251.7, width: 16, height: 11, r: 2 }, style: { fill: hGrad('#c8dbee', '#f1f7fc'), stroke: BLUE, lineWidth: 1.5 } },
    { type: 'line', shape: { x1: 466, y1: 257.2, x2: 482, y2: 257.2 }, style: { stroke: BLUE, lineWidth: 2 } },
    { type: 'line', shape: { x1: 474, y1: 262.7, x2: 474, y2: 266.5 }, style: { stroke: BLUE, lineWidth: 1.5 } },
    T('Control', 485, 256.7, { size: 13, align: 'left' }),
    { type: 'rect', shape: { x: 550, y: 251.7, width: 16, height: 11, r: 2 }, style: { fill: hGrad('#fbdccf', '#f2a08a'), stroke: RED, lineWidth: 1.5 } },
    { type: 'line', shape: { x1: 550, y1: 257.2, x2: 566, y2: 257.2 }, style: { stroke: RED, lineWidth: 2 } },
    { type: 'line', shape: { x1: 558, y1: 262.7, x2: 558, y2: 266.5 }, style: { stroke: RED, lineWidth: 1.5 } },
    T('Senescent', 570, 256.7, { size: 13, align: 'left' }),
    T('Oxidation proportion', 362, 362, { rot: Math.PI / 2 }),
    // F legend
    { type: 'rect', shape: { x: 117, y: 607.5, width: 18, height: 17, r: 2 }, style: { fill: '#c3d6e9', stroke: BLUE, lineWidth: 1.3 } },
    { type: 'rect', shape: { x: 121.5, y: 611.5, width: 9, height: 9 }, style: { fill: '#fff', stroke: BLUE, lineWidth: 1 } },
    { type: 'line', shape: { x1: 121.5, y1: 616, x2: 130.5, y2: 616 }, style: { stroke: BLUE, lineWidth: 1.6 } },
    T('Control', 139.3, 616.7, { size: 11.5, align: 'left' }),
    { type: 'rect', shape: { x: 195.5, y: 607.5, width: 18, height: 17, r: 2 }, style: { fill: '#ef8b75', stroke: RED, lineWidth: 1.3 } },
    { type: 'rect', shape: { x: 200, y: 611.5, width: 9, height: 9 }, style: { fill: '#fff', stroke: RED, lineWidth: 1 } },
    { type: 'line', shape: { x1: 200, y1: 616, x2: 209, y2: 616 }, style: { stroke: RED, lineWidth: 1.6 } },
    T('Senescent', 220, 616.7, { size: 11.5, align: 'left' }),
    T('Oxidation proportion', 17, 718.7, { rot: Math.PI / 2 }),
    // G
    T('Redox proteome analysis in iodoTMT (MS2) channel', 551.7, 612.7, { size: 10.9, bold: true }),
    T('hydrogen peroxide', 479, 627.3, { size: 11.2, color: '#3b8fd4' }),
    T('catabolic process', 479, 640, { size: 11.2, color: '#3b8fd4' }),
    T('actin filament', 628.3, 627.3, { size: 11.2, color: '#3aa63a' }),
    T('depolymerization', 628.3, 640, { size: 11.2, color: '#3aa63a' }),
    T('Oxidation percentage point difference', 557, 821.7),
    T('senescent - control', 557, 836.7),
    T('Oxidation proportion', 360, 720.8, { rot: Math.PI / 2 }),
  ];

  return { animation: false, backgroundColor: '#ffffff', textStyle: { fontFamily: FONT }, grid: grids, xAxis, yAxis, series, graphic };
}

export default function App() {
  const ref = useRef<HTMLDivElement | null>(null);
  useEffect(() => {
    if (!ref.current) return;
    const chart = echarts.init(ref.current, null, { renderer: 'svg' });
    chart.setOption(buildOption() as any);
    return () => {
      chart.dispose();
    };
  }, []);
  return <div ref={ref} style={{ position: 'absolute', left: 0, top: 0, width: 716, height: 846, background: '#ffffff' }} />;
}
